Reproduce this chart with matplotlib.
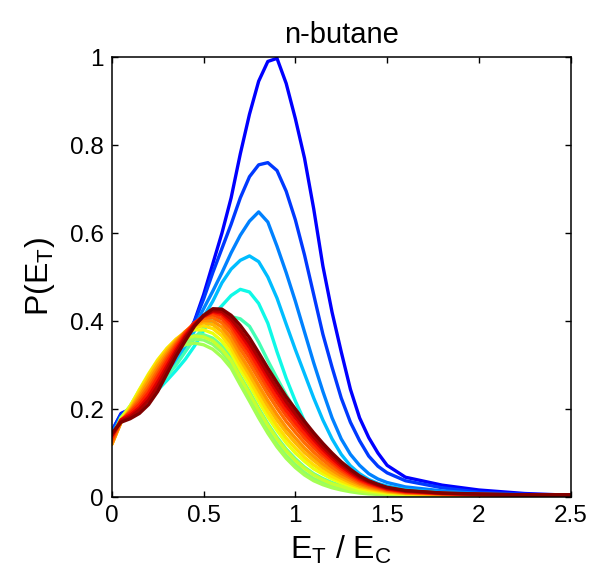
import matplotlib
matplotlib.use("Agg")
import matplotlib.pyplot as plt

plt.rcParams['font.family'] = ['Liberation Sans', 'DejaVu Sans']
plt.rcParams['mathtext.default'] = 'regular'

# ---------------- data ----------------
title = "n-butane"
xlabel = "E$_T$ / E$_C$"
ylabel = "P(E$_T$)"
xticks = [0, 0.5, 1, 1.5, 2, 2.5]
xticklabels = ["0", "0.5", "1", "1.5", "2", "2.5"]
yticks = [0, 0.2, 0.4, 0.6, 0.8, 1.0]
yticklabels = ["0", "0.2", "0.4", "0.6", "0.8", "1"]

E = [0.0, 0.05, 0.1, 0.15, 0.2, 0.25, 0.3, 0.35, 0.4, 0.45, 0.5, 0.55, 0.6, 0.65,
     0.7, 0.75, 0.8, 0.85, 0.9, 0.95, 1.0, 1.05, 1.1, 1.15, 1.2, 1.25, 1.3, 1.35,
     1.4, 1.45, 1.5, 1.6, 1.8, 2.0, 2.25, 2.5]

P01 = [0.15, 0.19, 0.2, 0.215, 0.235, 0.262, 0.292, 0.325, 0.36, 0.40, 0.46, 0.53, 0.60, 0.68,
       0.78, 0.87, 0.945, 0.99, 0.997, 0.94, 0.86, 0.77, 0.655, 0.525, 0.42, 0.33, 0.245, 0.18,
       0.135, 0.10, 0.072, 0.045, 0.027, 0.016, 0.008, 0.004]
P02 = [0.15, 0.188, 0.2, 0.215, 0.235, 0.26, 0.29, 0.322, 0.358, 0.398, 0.45, 0.51, 0.565, 0.62,
       0.68, 0.728, 0.755, 0.76, 0.742, 0.695, 0.63, 0.55, 0.46, 0.37, 0.295, 0.225, 0.17, 0.128,
       0.093, 0.07, 0.055, 0.037, 0.021, 0.011, 0.006, 0.003]
P03 = [0.145, 0.182, 0.196, 0.21, 0.23, 0.255, 0.285, 0.316, 0.35, 0.388, 0.428, 0.468, 0.51, 0.555,
       0.595, 0.627, 0.648, 0.625, 0.57, 0.51, 0.445, 0.375, 0.305, 0.24, 0.18, 0.132, 0.097, 0.072,
       0.053, 0.041, 0.033, 0.023, 0.014, 0.008, 0.004, 0.002]
P04 = [0.14, 0.178, 0.192, 0.207, 0.226, 0.25, 0.279, 0.309, 0.342, 0.377, 0.41, 0.445, 0.487, 0.518,
       0.538, 0.548, 0.535, 0.5, 0.452, 0.393, 0.335, 0.28, 0.225, 0.175, 0.132, 0.097, 0.071, 0.053,
       0.04, 0.031, 0.025, 0.017, 0.01, 0.006, 0.003, 0.002]
P05 = [0.13, 0.17, 0.185, 0.2, 0.22, 0.243, 0.265, 0.288, 0.313, 0.343, 0.378, 0.413, 0.435, 0.458,
       0.472, 0.466, 0.44, 0.395, 0.33, 0.27, 0.218, 0.172, 0.133, 0.103, 0.083, 0.066, 0.052, 0.041,
       0.032, 0.026, 0.021, 0.015, 0.009, 0.005, 0.003, 0.002]
P06 = [0.135, 0.175, 0.19, 0.205, 0.225, 0.25, 0.275, 0.30, 0.33, 0.36, 0.385, 0.40, 0.407, 0.41,
       0.405, 0.388, 0.352, 0.31, 0.27, 0.232, 0.197, 0.165, 0.136, 0.11, 0.088, 0.07, 0.055, 0.043,
       0.034, 0.027, 0.021, 0.014, 0.008, 0.006, 0.004, 0.004]
P07 = [0.135, 0.18, 0.203, 0.232, 0.26, 0.288, 0.314, 0.337, 0.356, 0.367, 0.369, 0.361, 0.344, 0.318,
       0.275, 0.240, 0.202, 0.167, 0.136, 0.109, 0.087, 0.068, 0.053, 0.042, 0.033, 0.026, 0.020, 0.015,
       0.012, 0.009, 0.008, 0.006, 0.004, 0.003, 0.003, 0.003]
P08 = [0.13, 0.18, 0.205, 0.236, 0.266, 0.294, 0.318, 0.338, 0.352, 0.359, 0.357, 0.347, 0.329, 0.303,
       0.262, 0.225, 0.187, 0.152, 0.121, 0.095, 0.074, 0.056, 0.042, 0.033, 0.025, 0.019, 0.015, 0.011,
       0.009, 0.007, 0.006, 0.005, 0.004, 0.003, 0.003, 0.003]
P09 = [0.13, 0.18, 0.207, 0.24, 0.27, 0.297, 0.319, 0.335, 0.346, 0.35, 0.346, 0.336, 0.318, 0.293,
       0.255, 0.218, 0.18, 0.145, 0.114, 0.088, 0.067, 0.05, 0.037, 0.028, 0.021, 0.016, 0.012, 0.009,
       0.007, 0.006, 0.005, 0.004, 0.003, 0.003, 0.003, 0.003]
P10 = [0.125, 0.178, 0.207, 0.243, 0.276, 0.305, 0.329, 0.347, 0.36, 0.366, 0.364, 0.355, 0.336, 0.31,
       0.271, 0.235, 0.198, 0.163, 0.132, 0.105, 0.083, 0.065, 0.050, 0.039, 0.030, 0.024, 0.018, 0.014,
       0.011, 0.009, 0.007, 0.005, 0.004, 0.003, 0.003, 0.003]
P11 = [0.125, 0.175, 0.206, 0.244, 0.28, 0.312, 0.338, 0.358, 0.372, 0.38, 0.38, 0.372, 0.354, 0.327,
       0.289, 0.254, 0.217, 0.182, 0.151, 0.123, 0.100, 0.081, 0.064, 0.052, 0.041, 0.032, 0.025, 0.019,
       0.015, 0.012, 0.009, 0.007, 0.005, 0.004, 0.003, 0.003]
P12 = [0.12, 0.172, 0.203, 0.24, 0.277, 0.31, 0.337, 0.359, 0.375, 0.386, 0.389, 0.383, 0.366, 0.338,
       0.300, 0.266, 0.229, 0.194, 0.162, 0.134, 0.111, 0.090, 0.073, 0.059, 0.047, 0.037, 0.029, 0.022,
       0.017, 0.014, 0.011, 0.008, 0.005, 0.004, 0.003, 0.003]
P13 = [0.12, 0.17, 0.2, 0.234, 0.27, 0.304, 0.332, 0.356, 0.376, 0.39, 0.396, 0.392, 0.376, 0.349,
       0.312, 0.278, 0.242, 0.207, 0.175, 0.147, 0.123, 0.101, 0.083, 0.067, 0.054, 0.043, 0.033, 0.025,
       0.020, 0.016, 0.012, 0.008, 0.006, 0.004, 0.004, 0.003]
P14 = [0.12, 0.17, 0.197, 0.228, 0.262, 0.296, 0.326, 0.353, 0.376, 0.393, 0.401, 0.40, 0.386, 0.36,
       0.323, 0.290, 0.254, 0.219, 0.187, 0.158, 0.134, 0.111, 0.092, 0.075, 0.061, 0.048, 0.038, 0.029,
       0.022, 0.018, 0.014, 0.009, 0.006, 0.005, 0.004, 0.003]
P15 = [0.125, 0.172, 0.195, 0.222, 0.253, 0.288, 0.32, 0.349, 0.375, 0.395, 0.406, 0.408, 0.396, 0.372,
       0.336, 0.304, 0.269, 0.234, 0.202, 0.172, 0.147, 0.123, 0.102, 0.084, 0.068, 0.054, 0.043, 0.032,
       0.025, 0.020, 0.015, 0.01, 0.007, 0.005, 0.004, 0.004]
P16 = [0.13, 0.175, 0.193, 0.216, 0.245, 0.28, 0.314, 0.345, 0.373, 0.396, 0.41, 0.415, 0.405, 0.383,
       0.348, 0.317, 0.282, 0.247, 0.215, 0.185, 0.159, 0.134, 0.112, 0.093, 0.076, 0.060, 0.047, 0.036,
       0.028, 0.022, 0.017, 0.011, 0.007, 0.005, 0.004, 0.004]
P17 = [0.135, 0.175, 0.19, 0.21, 0.237, 0.272, 0.307, 0.34, 0.37, 0.395, 0.411, 0.42, 0.413, 0.392,
       0.359, 0.329, 0.294, 0.259, 0.226, 0.196, 0.169, 0.144, 0.121, 0.100, 0.082, 0.065, 0.051, 0.039,
       0.030, 0.024, 0.018, 0.012, 0.008, 0.006, 0.004, 0.004]
P18 = [0.14, 0.175, 0.186, 0.203, 0.228, 0.262, 0.298, 0.334, 0.366, 0.393, 0.412, 0.422, 0.418, 0.399,
       0.370, 0.340, 0.306, 0.271, 0.238, 0.207, 0.180, 0.154, 0.130, 0.108, 0.088, 0.070, 0.055, 0.042,
       0.033, 0.026, 0.019, 0.013, 0.008, 0.006, 0.005, 0.004]
P19 = [0.14, 0.172, 0.182, 0.198, 0.22, 0.252, 0.29, 0.328, 0.362, 0.39, 0.411, 0.424, 0.422, 0.405,
       0.379, 0.350, 0.316, 0.281, 0.248, 0.217, 0.189, 0.162, 0.137, 0.114, 0.094, 0.075, 0.059, 0.045,
       0.035, 0.027, 0.021, 0.014, 0.009, 0.006, 0.005, 0.005]
P20 = [0.145, 0.17, 0.178, 0.19, 0.21, 0.24, 0.28, 0.32, 0.355, 0.388, 0.413, 0.428, 0.427, 0.413,
       0.39, 0.362, 0.328, 0.293, 0.26, 0.228, 0.2, 0.172, 0.146, 0.122, 0.1, 0.08, 0.063, 0.048,
       0.037, 0.029, 0.022, 0.015, 0.009, 0.007, 0.005, 0.005]

series = [P01, P02, P03, P04, P05, P06, P07, P08, P09, P10,
          P11, P12, P13, P14, P15, P16, P17, P18, P19, P20]

# ---------------- styles ----------------
color_pos = [0.11, 0.18, 0.25, 0.31, 0.37, 0.43, 0.48, 0.52, 0.55, 0.59,
             0.635, 0.675, 0.715, 0.755, 0.795, 0.835, 0.875, 0.915, 0.96, 1.0]
cmap = matplotlib.colormaps['jet']

fig = plt.figure(figsize=(5.95, 5.82), dpi=100)
ax = fig.add_axes([0.188, 0.146, 0.771, 0.756])

for ys, c in zip(series, color_pos):
    ax.plot(E, ys, color=cmap(c), lw=2.4, solid_joinstyle='round', solid_capstyle='round')

ax.set_xlim(0, 2.5)
ax.set_ylim(0, 1)
ax.set_xticks(xticks)
ax.set_xticklabels(xticklabels)
ax.set_yticks(yticks)
ax.set_yticklabels(yticklabels)
ax.tick_params(direction='in', top=True, right=True, length=4, width=1,
               labelsize=17.5, pad=6, colors='black')
for s in ax.spines.values():
    s.set_linewidth(1.1)

ax.set_title(title, fontsize=21, pad=10)
ax.set_xlabel(xlabel, fontsize=23, labelpad=5)
ax.set_ylabel(ylabel, fontsize=23, labelpad=9)

fig.savefig("out.png", dpi=100)
